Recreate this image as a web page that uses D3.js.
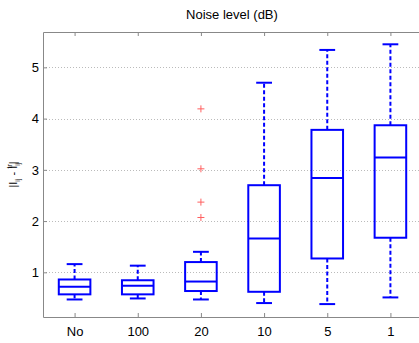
<!DOCTYPE html>
<html>
<head>
<meta charset="utf-8">
<script src="https://cdn.jsdelivr.net/npm/d3@7"></script>
<style>
  body { margin: 0; background: #fff; }
  svg { display: block; }
</style>
</head>
<body>
<div id="chart"></div>
<script>
// noise levels along the x axis
const levels = ['No', '100', '20', '10', '5', '1']
// box statistics per level
const whiskerLow = [0.47, 0.49, 0.47, 0.40, 0.38, 0.51]
const q1 = [0.57, 0.57, 0.635, 0.62, 1.27, 1.675]
const median = [0.72, 0.74, 0.82, 1.66, 2.84, 3.24]
const q3 = [0.86, 0.845, 1.20, 2.70, 3.78, 3.87]
const whiskerHigh = [1.16, 1.13, 1.40, 4.70, 5.34, 5.45]
// outliers: [level index, value]
const outliers = [[2, 4.19], [2, 3.02], [2, 2.37], [2, 2.07]]
const yTicks = [1, 2, 3, 4, 5]

const width = 419
const height = 343
const margin = { top: 32, left: 43, bottom: 26 }
const plotRight = 422 // right border falls just outside the picture

const svg = d3.select('#chart').append('svg')
    .attr('width', width)
    .attr('height', height)
    .attr('font-family', '\'Liberation Sans\', Arial, sans-serif')

const x = d3.scaleLinear().domain([0.5, levels.length + 0.5]).range([margin.left, plotRight])
const y = d3.scaleLinear().domain([0.128, 5.69]).range([height - margin.bottom, margin.top])

const unit = x(1) - x(0)
const boxHalf = unit * 0.25
const capHalf = unit * 0.125

// grid
svg.append('g')
    .selectAll('line').data(yTicks).enter()
    .append('line')
    .attr('x1', margin.left)
    .attr('x2', plotRight)
    .attr('y1', d => Math.round(y(d)) + 0.5)
    .attr('y2', d => Math.round(y(d)) + 0.5)
    .attr('stroke', '#bbb')
    .attr('stroke-width', 1)
    .attr('stroke-dasharray', '1,2')

// axes
const bottomAxis = svg.append('g')
    .attr('transform', `translate(0,${height - margin.bottom})`)
    .call(d3.axisBottom(x).tickValues(d3.range(1, levels.length + 1))
        .tickFormat((d, i) => levels[i]).tickSizeInner(-4).tickSizeOuter(0).tickPadding(10))
const topAxis = svg.append('g')
    .attr('transform', `translate(0,${margin.top})`)
    .call(d3.axisTop(x).tickValues(d3.range(1, levels.length + 1))
        .tickFormat('').tickSizeInner(-4).tickSizeOuter(0))
const leftAxis = svg.append('g')
    .attr('transform', `translate(${margin.left},0)`)
    .call(d3.axisLeft(y).tickValues(yTicks).tickFormat(d3.format('d'))
        .tickSizeInner(-4).tickSizeOuter(0).tickPadding(4))

;[bottomAxis, topAxis, leftAxis].forEach(g => {
    g.select('.domain').attr('stroke', '#888')
    g.selectAll('.tick line').attr('stroke', '#888')
    g.selectAll('text').attr('fill', '#000').attr('font-size', 13)
        .attr('font-family', '\'Liberation Sans\', Arial, sans-serif')
})

// boxes
const boxes = svg.append('g')
    .selectAll('g').data(levels).enter()
    .append('g')

boxes.call(g => {
    // whiskers
    g.append('line')
        .attr('x1', (d, i) => x(i + 1)).attr('x2', (d, i) => x(i + 1))
        .attr('y1', (d, i) => y(q3[i])).attr('y2', (d, i) => y(whiskerHigh[i]))
        .attr('stroke', '#00f').attr('stroke-width', 2).attr('stroke-dasharray', '4,2.5')
    g.append('line')
        .attr('x1', (d, i) => x(i + 1)).attr('x2', (d, i) => x(i + 1))
        .attr('y1', (d, i) => y(q1[i])).attr('y2', (d, i) => y(whiskerLow[i]))
        .attr('stroke', '#00f').attr('stroke-width', 2).attr('stroke-dasharray', '4,2.5')
    // caps
    g.append('line')
        .attr('x1', (d, i) => x(i + 1) - capHalf).attr('x2', (d, i) => x(i + 1) + capHalf)
        .attr('y1', (d, i) => y(whiskerHigh[i])).attr('y2', (d, i) => y(whiskerHigh[i]))
        .attr('stroke', '#00f').attr('stroke-width', 2)
    g.append('line')
        .attr('x1', (d, i) => x(i + 1) - capHalf).attr('x2', (d, i) => x(i + 1) + capHalf)
        .attr('y1', (d, i) => y(whiskerLow[i])).attr('y2', (d, i) => y(whiskerLow[i]))
        .attr('stroke', '#00f').attr('stroke-width', 2)
    // box
    g.append('rect')
        .attr('x', (d, i) => x(i + 1) - boxHalf)
        .attr('width', boxHalf * 2)
        .attr('y', (d, i) => y(q3[i]))
        .attr('height', (d, i) => y(q1[i]) - y(q3[i]))
        .attr('fill', 'none').attr('stroke', '#00f').attr('stroke-width', 2)
    // median
    g.append('line')
        .attr('x1', (d, i) => x(i + 1) - boxHalf).attr('x2', (d, i) => x(i + 1) + boxHalf)
        .attr('y1', (d, i) => y(median[i])).attr('y2', (d, i) => y(median[i]))
        .attr('stroke', '#00f').attr('stroke-width', 2)
})

// outliers
svg.append('g')
    .selectAll('path').data(outliers).enter()
    .append('path')
    .attr('d', d => {
        const cx = x(d[0] + 1)
        const cy = y(d[1])
        return `M${cx - 3.5},${cy}H${cx + 3.5}M${cx},${cy - 3.5}V${cy + 3.5}`
    })
    .attr('stroke', '#ff6060').attr('stroke-width', 1)

// title
svg.append('text')
    .attr('x', 232)
    .attr('y', 19)
    .attr('text-anchor', 'middle')
    .attr('font-size', 13)
    .attr('fill', '#000')
    .text('Noise level (dB)')

// y label
const ylab = svg.append('text')
    .attr('transform', `translate(17,${(margin.top + height - margin.bottom) / 2}) rotate(-90)`)
    .attr('text-anchor', 'middle')
    .attr('font-size', 11)
    .attr('fill', '#000')
ylab.append('tspan').text('|I')
ylab.append('tspan').attr('font-size', 7).attr('dy', 3).text('ij')
ylab.append('tspan').attr('dy', -3).text(' - I')
ylab.append('tspan').attr('font-size', 7).attr('dy', 3).text('ij')
ylab.append('tspan').attr('font-size', 7).attr('dx', -6).attr('dy', -8).text('tr')
ylab.append('tspan').attr('dy', 5).text('|')
</script>
</body>
</html>
